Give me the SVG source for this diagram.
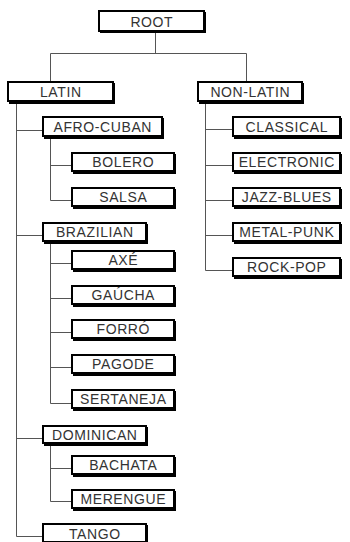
<svg xmlns="http://www.w3.org/2000/svg" width="350" height="542" viewBox="0 0 350 542">
<defs>
<style>
.sh{fill:#000}
.bx{fill:#fff;stroke:#000;stroke-width:2}
.t{font-family:"Liberation Sans",Arial,sans-serif;font-size:14px;fill:#333;text-anchor:middle;letter-spacing:0.6px}
.c{fill:none;stroke:#555;stroke-width:1}
</style>
</defs>
<rect width="350" height="542" fill="#fff"/>
<g id="connectors">
<path class="c" d="M155.5 32V53.5M50.5 53.5H246.5M50.5 53.5V81M246.5 53.5V81"/>
<path class="c" d="M16.5 101V536.5M16.5 130.5H42M16.5 235.5H42M16.5 438.5H42M16.5 536.5H42"/>
<path class="c" d="M50.5 138V200.5M50.5 165.5H71M50.5 200.5H71"/>
<path class="c" d="M50.5 243V403.5M50.5 263.5H71M50.5 298.5H71M50.5 332.5H71M50.5 367.5H71M50.5 403.5H71"/>
<path class="c" d="M50.5 445V501.5M50.5 468.5H71M50.5 501.5H71"/>
<path class="c" d="M205.5 102V270.5M205.5 129.5H232M205.5 165.5H232M205.5 200.5H232M205.5 235.5H232M205.5 270.5H232"/>
</g>
<g id="root"><rect class="sh" x="100" y="12" width="106" height="21"/><rect class="bx" x="99" y="11" width="105" height="20"/><text class="t" x="151.8" y="27">ROOT</text></g>
<g id="latin"><rect class="sh" x="9" y="83" width="106" height="21"/><rect class="bx" x="8" y="82" width="105" height="19"/><text class="t" x="60.8" y="97">LATIN</text></g>
<g id="non-latin"><rect class="sh" x="199" y="83" width="105" height="21"/><rect class="bx" x="198" y="82" width="104" height="19"/><text class="t" x="250.3" y="97">NON-LATIN</text></g>
<g id="afro-cuban"><rect class="sh" x="44" y="118" width="120" height="21"/><rect class="bx" x="43" y="117" width="119" height="19"/><text class="t" x="102.8" y="132">AFRO-CUBAN</text></g>
<g id="bolero"><rect class="sh" x="73" y="154" width="103" height="20"/><rect class="bx" x="72" y="153" width="102" height="18"/><text class="t" x="123.3" y="167">BOLERO</text></g>
<g id="salsa"><rect class="sh" x="73" y="189" width="103" height="20"/><rect class="bx" x="72" y="188" width="102" height="18"/><text class="t" x="123.3" y="202">SALSA</text></g>
<g id="brazilian"><rect class="sh" x="44" y="224" width="104" height="20"/><rect class="bx" x="43" y="223" width="103" height="18"/><text class="t" x="94.8" y="237">BRAZILIAN</text></g>
<g id="axe"><rect class="sh" x="73" y="252" width="103" height="20"/><rect class="bx" x="72" y="251" width="102" height="18"/><text class="t" x="123.3" y="265">AXÉ</text></g>
<g id="gaucha"><rect class="sh" x="73" y="287" width="103" height="20"/><rect class="bx" x="72" y="286" width="102" height="18"/><text class="t" x="123.3" y="300">GAÚCHA</text></g>
<g id="forro"><rect class="sh" x="73" y="321" width="103" height="20"/><rect class="bx" x="72" y="320" width="102" height="18"/><text class="t" x="123.3" y="334">FORRÓ</text></g>
<g id="pagode"><rect class="sh" x="73" y="356" width="103" height="20"/><rect class="bx" x="72" y="355" width="102" height="18"/><text class="t" x="123.3" y="369">PAGODE</text></g>
<g id="sertaneja"><rect class="sh" x="73" y="391" width="103" height="20"/><rect class="bx" x="72" y="390" width="102" height="18"/><text class="t" x="123.3" y="404">SERTANEJA</text></g>
<g id="dominican"><rect class="sh" x="44" y="427" width="104" height="19"/><rect class="bx" x="43" y="426" width="103" height="17"/><text class="t" x="94.8" y="440">DOMINICAN</text></g>
<g id="bachata"><rect class="sh" x="73" y="457" width="103" height="20"/><rect class="bx" x="72" y="456" width="102" height="18"/><text class="t" x="123.3" y="470">BACHATA</text></g>
<g id="merengue"><rect class="sh" x="73" y="491" width="103" height="20"/><rect class="bx" x="72" y="490" width="102" height="18"/><text class="t" x="123.3" y="504">MERENGUE</text></g>
<g id="tango"><rect class="sh" x="44" y="525" width="104" height="20"/><rect class="bx" x="43" y="524" width="103" height="18"/><text class="t" x="94.8" y="539">TANGO</text></g>
<g id="classical"><rect class="sh" x="234" y="118" width="108" height="21"/><rect class="bx" x="233" y="117" width="107" height="19"/><text class="t" x="286.8" y="132">CLASSICAL</text></g>
<g id="electronic"><rect class="sh" x="234" y="154" width="108" height="20"/><rect class="bx" x="233" y="153" width="107" height="18"/><text class="t" x="286.8" y="167">ELECTRONIC</text></g>
<g id="jazz-blues"><rect class="sh" x="234" y="189" width="108" height="20"/><rect class="bx" x="233" y="188" width="107" height="18"/><text class="t" x="286.8" y="202">JAZZ-BLUES</text></g>
<g id="metal-punk"><rect class="sh" x="234" y="224" width="108" height="20"/><rect class="bx" x="233" y="223" width="107" height="18"/><text class="t" x="286.8" y="237">METAL-PUNK</text></g>
<g id="rock-pop"><rect class="sh" x="234" y="259" width="108" height="20"/><rect class="bx" x="233" y="258" width="107" height="18"/><text class="t" x="286.8" y="272">ROCK-POP</text></g>
</svg>
